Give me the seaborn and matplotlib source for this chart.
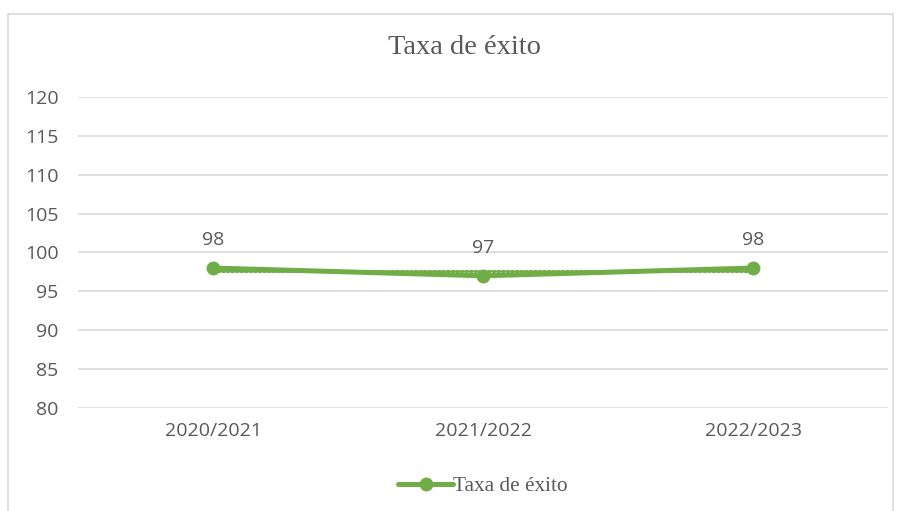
import numpy as np
import pandas as pd
import seaborn as sb
import matplotlib.pyplot as plt
from matplotlib.patches import Rectangle

years = ["2020/2021", "2021/2022", "2022/2023"]
success_rate = [98, 97, 98]
series_name = "Taxa de éxito"

GREEN = "#70AD47"
GREY_TEXT = "#595959"
GRID = "#D9D9D9"

sb.set_style("white")
plt.rcParams["font.family"] = ["Open Sans", "DejaVu Sans"]

dset = pd.DataFrame({"year": years, "rate": success_rate, "pos": np.arange(len(years))})

fig = plt.figure(figsize=(9.03, 5.11), dpi=100)
ax = fig.add_axes([0.0864, 0.2016, 0.8970, 0.6086])

# chart frame
fig.patches.append(
    Rectangle((8 / 903, -0.05), 885 / 903, 1 - 14 / 511 + 0.05,
              transform=fig.transFigure, fill=False, edgecolor=GRID, linewidth=1.2)
)

# dotted linear trendline
sb.regplot(data=dset, x="pos", y="rate", ax=ax, scatter=False, ci=None,
           line_kws={"color": GREEN, "linestyle": (0, (0.6, 0.9)), "linewidth": 2.2,
                     "dash_capstyle": "round"})

sb.lineplot(data=dset, x="pos", y="rate", ax=ax, color=GREEN, linewidth=3.6,
            marker="o", markersize=10, markeredgewidth=0, label=series_name, legend=False)

for x, y in zip(dset["pos"], dset["rate"]):
    ax.annotate(f"{y}", (x, y), xytext=(0, 20), textcoords="offset points",
                ha="center", va="center", fontsize=14, color=GREY_TEXT)

ax.set_xlim(-0.5, len(years) - 0.5)
ax.set_ylim(80, 120)
ax.set_yticks(range(80, 121, 5))
ax.set_xticks(dset["pos"], years)
ax.tick_params(axis="both", length=0, labelsize=14, labelcolor=GREY_TEXT)
ax.tick_params(axis="y", pad=14)
ax.tick_params(axis="x", pad=10)
ax.grid(True, axis="y", color=GRID, linewidth=1.2)
ax.set_axisbelow(True)
ax.set_xlabel("")
ax.set_ylabel("")
for spine in ax.spines.values():
    spine.set_visible(False)

fig.text(0.514, 1 - 48 / 511, series_name, ha="center", va="center",
         family="Liberation Serif", fontsize=20.5, color=GREY_TEXT)

handle = plt.Line2D([], [], color=GREEN, linewidth=3.6, marker="o", markersize=10,
                    markeredgewidth=0)
leg = fig.legend([handle], [series_name], loc="center", bbox_to_anchor=(0.535, 1 - 486 / 511),
                 frameon=False, handlelength=2.6, handletextpad=0.0,
                 prop={"family": "Liberation Serif", "size": 15.3})
for t in leg.get_texts():
    t.set_color(GREY_TEXT)

fig.savefig("out.png", dpi=100)
